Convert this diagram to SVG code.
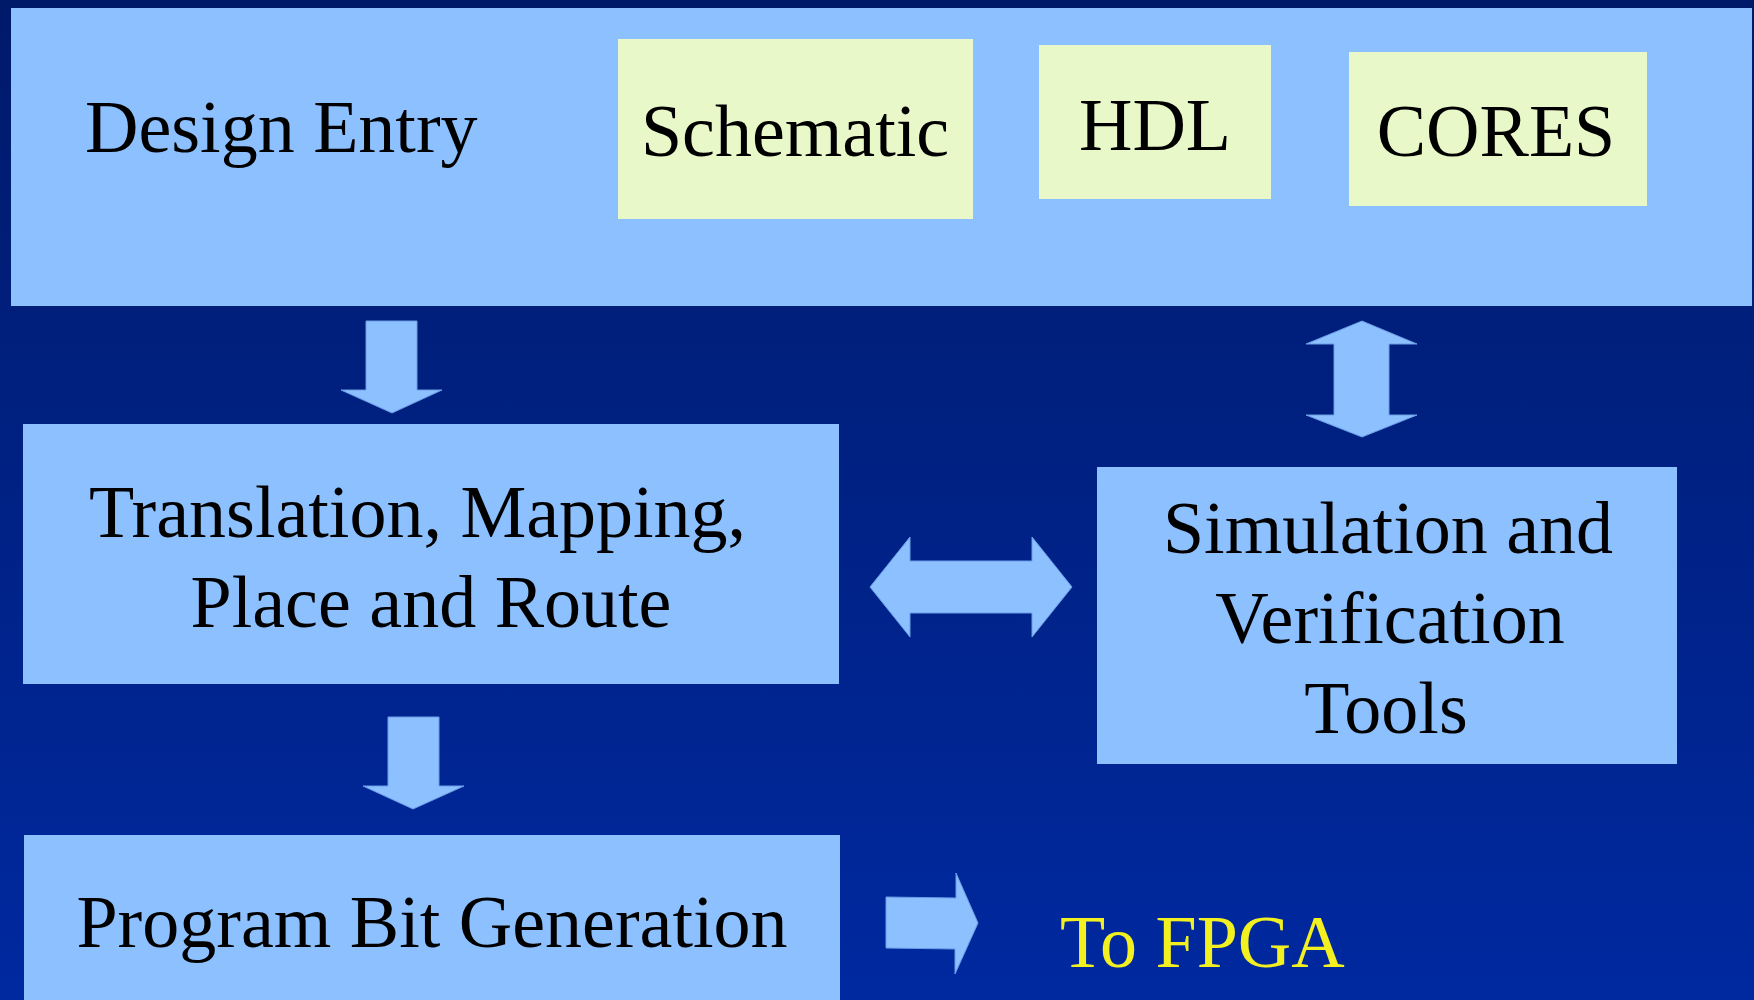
<svg xmlns="http://www.w3.org/2000/svg" width="1754" height="1000" viewBox="0 0 1754 1000">
<defs>
<linearGradient id="bg" x1="0" y1="0" x2="0" y2="1">
<stop offset="0" stop-color="#001a6a"/>
<stop offset="1" stop-color="#0029a0"/>
</linearGradient>
</defs>
<style>
.box{fill:#8dc0fe}
.sub{fill:#e8f8c8}
.t{font-family:"Liberation Serif","Times New Roman",serif;font-size:74px;fill:#000}
.arrow{fill:#8dc0fe;stroke:#6a9de6;stroke-width:1}
.y{fill:#f2f020}
</style>
<rect x="0" y="0" width="1754" height="1000" fill="url(#bg)"/>
<g id="design-entry">
<rect class="box" x="11" y="8" width="1741" height="298"/>
<text class="t" x="85" y="152">Design Entry</text>
</g>
<g id="schematic">
<rect class="sub" x="618" y="39" width="355" height="180"/>
<text class="t" x="795" y="156" text-anchor="middle">Schematic</text>
</g>
<g id="hdl">
<rect class="sub" x="1039" y="45" width="232" height="154"/>
<text class="t" x="1155" y="150" text-anchor="middle">HDL</text>
</g>
<g id="cores">
<rect class="sub" x="1349" y="52" width="298" height="154"/>
<text class="t" x="1496" y="156" text-anchor="middle">CORES</text>
</g>
<g id="translation">
<rect class="box" x="23" y="424" width="816" height="260"/>
<text class="t" x="89" y="537">Translation, Mapping,</text>
<text class="t" x="431" y="627" text-anchor="middle">Place and Route</text>
</g>
<g id="simulation">
<rect class="box" x="1097" y="467" width="580" height="297"/>
<text class="t" x="1388" y="553" text-anchor="middle">Simulation and</text>
<text class="t" x="1390" y="643" text-anchor="middle">Verification</text>
<text class="t" x="1386" y="733" text-anchor="middle">Tools</text>
</g>
<g id="program-bit">
<rect class="box" x="24" y="835" width="816" height="170"/>
<text class="t" x="432" y="947" text-anchor="middle">Program Bit Generation</text>
</g>
<g id="to-fpga">
<text class="t y" x="1060" y="967">To FPGA</text>
</g>
<g id="connectors">
<polygon class="arrow" points="366,321 417,321 417,390 442,390 392,413 341,390 366,390"/>
<polygon class="arrow" points="1362,321 1417,344 1389,344 1389,415 1417,415 1362,437 1306,415 1334,415 1334,344 1306,344"/>
<polygon class="arrow" points="870,587 910,537 910,561 1032,561 1032,537 1072,587 1032,637 1032,613 910,613 910,637"/>
<polygon class="arrow" points="388,717 439,717 439,786 464,786 413,809 363,786 388,786"/>
<polygon class="arrow" points="886,897 956,898 956,873 978,923 955,974 955,949 886,948"/>
</g>
</svg>
